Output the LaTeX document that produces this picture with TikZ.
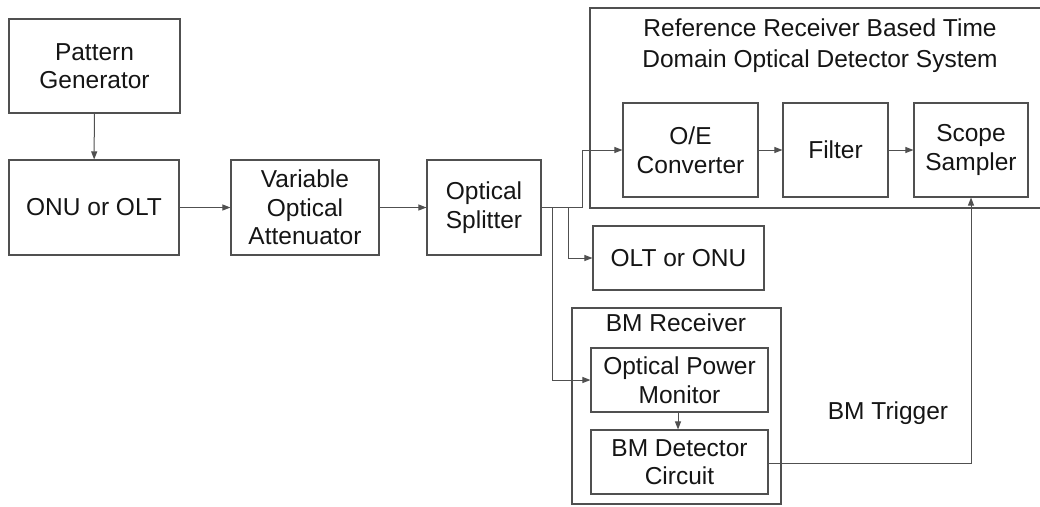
\documentclass[tikz,border=0pt]{standalone}
\usepackage{fontspec}
\setmainfont{Liberation Sans}
\usetikzlibrary{arrows.meta}
\definecolor{linec}{HTML}{505050}
\definecolor{txtc}{HTML}{151515}
\tikzset{
  blk/.style={draw=linec, line width=1.1pt, rectangle, align=center, inner sep=0pt,
     text=txtc, font=\fontsize{24.5}{28.5}\selectfont},
  conn/.style={draw=linec, line width=1pt, -{Triangle[length=8pt,width=6pt]}},
  plain/.style={draw=linec, line width=1pt},
  lbl/.style={text=txtc, align=center, inner sep=0pt, font=\fontsize{24.5}{28.5}\selectfont}
}
\begin{document}
\begin{tikzpicture}[x=1pt,y=-1pt]
\useasboundingbox (0,0) rectangle (1040,506);
\begin{scope}
\clip (0,0) rectangle (1040,506);
% outer boxes
\draw[plain, line width=1.1pt] (1050,8) -- (590,8) -- (590,208) -- (1050,208);
\draw[plain, line width=1.1pt] (572,308) rectangle (781,504);
\end{scope}
\node[lbl, font=\fontsize{24.5}{31}\selectfont] (title) at (820,46) {Reference Receiver Based Time\\Domain Optical Detector System};
\node[lbl] (bmrx) at (676,323) {BM Receiver};

\node[blk, minimum width=171pt, minimum height=94pt] (pg) at (94.5,66) {Pattern\\Generator};
\node[blk, minimum width=170pt, minimum height=95pt] (onu) at (94,207.5) {ONU or OLT};
\node[blk, minimum width=148pt, minimum height=95pt] (voa) at (305,207.5) {Variable\\Optical\\Attenuator};
\node[blk, minimum width=114pt, minimum height=95pt] (spl) at (484,207.5) {Optical\\Splitter};

\node[blk, minimum width=135pt, minimum height=94pt] (oe) at (690.5,150) {O/E\\Converter};
\node[blk, minimum width=105pt, minimum height=94pt] (flt) at (835.5,150) {Filter};
\node[blk, minimum width=114pt, minimum height=94pt] (scope) at (971,150) {Scope\\Sampler};

\node[blk, minimum width=171pt, minimum height=64pt] (olt) at (678.5,258) {OLT or ONU};
\node[blk, minimum width=177pt, minimum height=64pt] (opm) at (679.5,380) {Optical Power\\Monitor};
\node[blk, minimum width=177pt, minimum height=64pt] (bmd) at (679.5,462) {BM Detector\\Circuit};

\node[lbl] (trig) at (888,413) {BM Trigger};

\coordinate (s1) at (582,207.5);
\coordinate (s2) at (568,207.5);
\coordinate (s3) at (552,207.5);

\draw[conn] (pg) -- (onu);
\draw[conn] (onu) -- (voa);
\draw[conn] (voa) -- (spl);
\draw[conn] (spl.east) -- (s1) |- (oe.west);
\draw[conn] (s2) |- (olt.west);
\draw[conn] (s3) |- (opm.west);
\draw[conn] (oe) -- (flt);
\draw[conn] (flt) -- (scope);
\draw[conn] (opm.south -| 678,0) -- (bmd.north -| 678,0);
\draw[conn] (bmd.east |- 0,463) -| (scope.south);
\end{tikzpicture}
\end{document}
